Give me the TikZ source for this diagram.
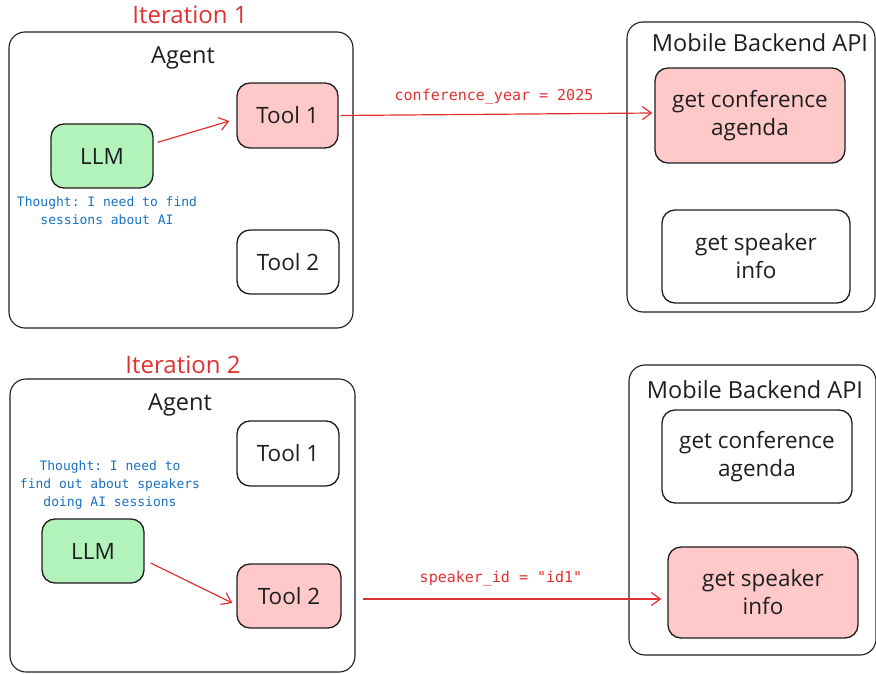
\documentclass[tikz,border=0pt]{standalone}
\usepackage{fontspec}
\setmainfont{Open Sans}
\setmonofont{DejaVu Sans Mono}
\usetikzlibrary{arrows.meta,calc}
\definecolor{ink}{HTML}{1E1E1E}
\definecolor{redline}{HTML}{E03131}
\definecolor{redfill}{HTML}{FFC9C9}
\definecolor{greenfill}{HTML}{B2F2BB}
\definecolor{bluetext}{HTML}{1971C2}

\begin{document}
\begin{tikzpicture}[x=1pt,y=-1pt,
  frame/.style={draw=ink, line width=1.1pt, rounded corners=16pt, inner sep=0pt},
  box/.style={draw=ink, line width=1.3pt, rounded corners=13pt, align=center,
    font=\fontsize{22.5}{28}\selectfont, text=ink, inner sep=0pt},
  active/.style={box, fill=redfill},
  model/.style={box, fill=greenfill},
  idle/.style={box, fill=white},
  heading/.style={font=\fontsize{23.5}{27}\selectfont, text=ink},
  itertitle/.style={font=\fontsize{24}{28}\selectfont, text=redline},
  thought/.style={font=\ttfamily\fontsize{13}{18}\selectfont, text=bluetext, align=center},
  param/.style={font=\ttfamily\fontsize{15}{18}\selectfont, text=redline},
  call/.style={draw=redline, line width=1.2pt, -{Straight Barb[length=9pt,width=13pt]}},
]
\useasboundingbox (0,0) rectangle (876,674);

% ---------- Iteration 1 ----------
\node[itertitle] (it1) at (190,15) {Iteration 1};
\node[frame, minimum width=344pt, minimum height=296pt] (agentA) at (181,180) {};
\node[heading] (agentAtitle) at (183,58) {Agent};
\node[model, minimum width=102pt, minimum height=64pt] (llmA) at (102,156) {LLM};
\node[thought] (thoughtA) at (107,211) {Thought: I need to find\\sessions about AI};
\node[active, minimum width=101pt, minimum height=65pt] (toolOneA) at (287.5,115.5) {Tool 1};
\node[idle, minimum width=102pt, minimum height=64pt] (toolTwoA) at (288,262) {Tool 2};

\node[frame, minimum width=248pt, minimum height=290pt] (apiA) at (751,167) {};
\node[heading] (apiAtitle) at (760,43) {Mobile Backend API};
\node[active, minimum width=190pt, minimum height=95pt] (agendaA) at (750,115.5) {get conference\\agenda};
\node[idle, minimum width=188pt, minimum height=93pt] (speakerA) at (756,256.5) {get speaker\\info};

\draw[call] ($(llmA.north east)+(4,19)$) -- ($(toolOneA.west)+(-7,5.5)$);
\draw[call] ($(toolOneA.east)+(2,0)$) -- ($(agendaA.west)+(-2,-2.5)$);
\node[param] (paramA) at (494,97) {conference\_year = 2025};

% ---------- Iteration 2 ----------
\node[itertitle] (it2) at (183,365) {Iteration 2};
\node[frame, minimum width=345pt, minimum height=293pt] (agentB) at (182.5,525.5) {};
\node[heading] (agentBtitle) at (180,405) {Agent};
\node[idle, minimum width=102pt, minimum height=65pt] (toolOneB) at (288,453.5) {Tool 1};
\node[thought] (thoughtB) at (110,485) {Thought: I need to\\find out about speakers\\doing AI sessions};
\node[model, minimum width=102pt, minimum height=64pt] (llmB) at (93,551) {LLM};
\node[active, minimum width=104pt, minimum height=64pt] (toolTwoB) at (289,596) {Tool 2};

\node[frame, minimum width=247pt, minimum height=290pt] (apiB) at (752.5,510) {};
\node[heading] (apiBtitle) at (755,390) {Mobile Backend API};
\node[idle, minimum width=190pt, minimum height=93pt] (agendaB) at (757,456.5) {get conference\\agenda};
\node[active, minimum width=190pt, minimum height=91pt] (speakerB) at (763,592.5) {get speaker\\info};

\draw[call] ($(llmB.east)+(6,12)$) -- ($(toolTwoB.west)+(-4,7)$);
\draw[call] ($(toolTwoB.east)+(21,3)$) -- ($(speakerB.west)+(-6,6.5)$);
\node[param] (paramB) at (501,579) {speaker\_id = "id1"};
\end{tikzpicture}
\end{document}
